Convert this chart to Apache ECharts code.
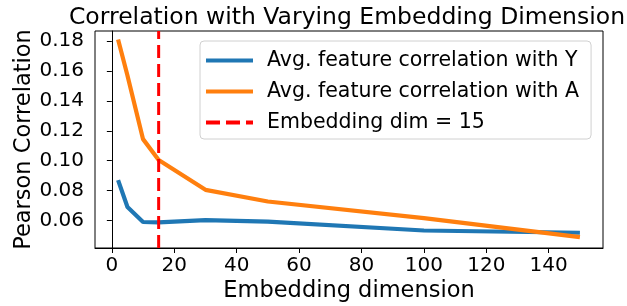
<!DOCTYPE html>
<html>
<head>
<meta charset="utf-8">
<script src="https://cdn.jsdelivr.net/npm/echarts@6/dist/echarts.min.js"></script>
<style>
  html, body { margin: 0; padding: 0; background: #fff; }
  #chart { width: 627px; height: 306px; }
</style>
</head>
<body>
<div id="chart"></div>
<script>
const dims = [2, 5, 10, 15, 30, 50, 100, 150]
const corrWithY = [0.087, 0.069, 0.059, 0.0587, 0.0603, 0.0593, 0.0533, 0.0518]
const corrWithA = [0.181, 0.157, 0.1144, 0.1005, 0.0805, 0.0727, 0.0616, 0.0489]
const chosenDim = 15
const xTicks = [0, 20, 40, 60, 80, 100, 120, 140]
const yTicks = [0.06, 0.08, 0.10, 0.12, 0.14, 0.16, 0.18]

const xMin = -5.4, xMax = 157.4
const yMin = 0.0416, yMax = 0.1867
const font = 'DejaVu Sans'

let mychart = echarts.init(document.getElementById('chart'))
mychart.setOption({
  animation: false,
  title: {
    text: 'Correlation with Varying Embedding Dimension',
    left: 342,
    textAlign: 'center',
    top: 1,
    textStyle: { fontFamily: font, fontSize: 23.5, fontWeight: 'normal', color: '#000' },
  },
  legend: {
    orient: 'vertical',
    left: 200,
    top: 41,
    itemWidth: 47,
    itemHeight: 4,
    itemGap: 10,
    padding: [9, 12, 6, 6],
    borderColor: '#d0d0d0',
    borderWidth: 1,
    borderRadius: 4,
    textStyle: { fontFamily: font, fontSize: 20.5, lineHeight: 21, color: '#000', padding: [0, 0, 0, 9] },
    data: [
      { name: 'Avg. feature correlation with Y', icon: 'rect' },
      { name: 'Avg. feature correlation with A', icon: 'rect' },
      // dashed handle for the vertical line
      { name: 'Embedding dim = 15', icon: 'path://M0,0h14v4h-14z M20,0h14v4h-14z M40,0h7v4h-7z' },
    ],
  },
  grid: {
    left: 95,
    right: 24,
    top: 31,
    bottom: 58,
    outerBoundsMode: 'none',
    show: true,
    borderColor: '#000',
    borderWidth: 1,
  },
  xAxis: {
    type: 'value',
    min: xMin,
    max: xMax,
    name: 'Embedding dimension',
    nameLocation: 'middle',
    nameGap: 32,
    nameMoveOverlap: false,
    nameTextStyle: { fontFamily: font, fontSize: 22.5, color: '#000' },
    axisLine: { lineStyle: { color: '#000' } },
    axisTick: { length: 5, lineStyle: { color: '#000' }, customValues: xTicks },
    axisLabel: { fontFamily: font, fontSize: 20, color: '#000', margin: 8, customValues: xTicks },
    splitLine: { show: false },
  },
  yAxis: {
    type: 'value',
    min: yMin,
    max: yMax,
    name: 'Pearson Correlation',
    nameLocation: 'middle',
    nameGap: 59,
    nameMoveOverlap: false,
    nameTextStyle: { fontFamily: font, fontSize: 22.5, color: '#000' },
    axisLine: { show: true, lineStyle: { color: '#000' } },
    axisTick: { show: true, length: 5, lineStyle: { color: '#000' }, customValues: yTicks },
    axisLabel: {
      fontFamily: font, fontSize: 20, color: '#000', margin: 11,
      customValues: yTicks,
      formatter: (v) => v.toFixed(2),
    },
    splitLine: { show: false },
  },
  series: [
    {
      name: 'Avg. feature correlation with Y',
      type: 'line',
      symbol: 'none',
      color: '#1f77b4',
      lineStyle: { width: 4.2, color: '#1f77b4' },
      data: dims.map((d, i) => [d, corrWithY[i]]),
    },
    {
      name: 'Avg. feature correlation with A',
      type: 'line',
      symbol: 'none',
      color: '#ff7f0e',
      lineStyle: { width: 4.2, color: '#ff7f0e' },
      data: dims.map((d, i) => [d, corrWithA[i]]),
    },
    {
      name: 'Embedding dim = 15',
      type: 'line',
      symbol: 'none',
      color: '#ff0000',
      lineStyle: { width: 3, color: '#ff0000', type: [13, 6] },
      data: [[chosenDim, yMin], [chosenDim, yMax]],
    },
  ],
})
</script>
</body>
</html>
